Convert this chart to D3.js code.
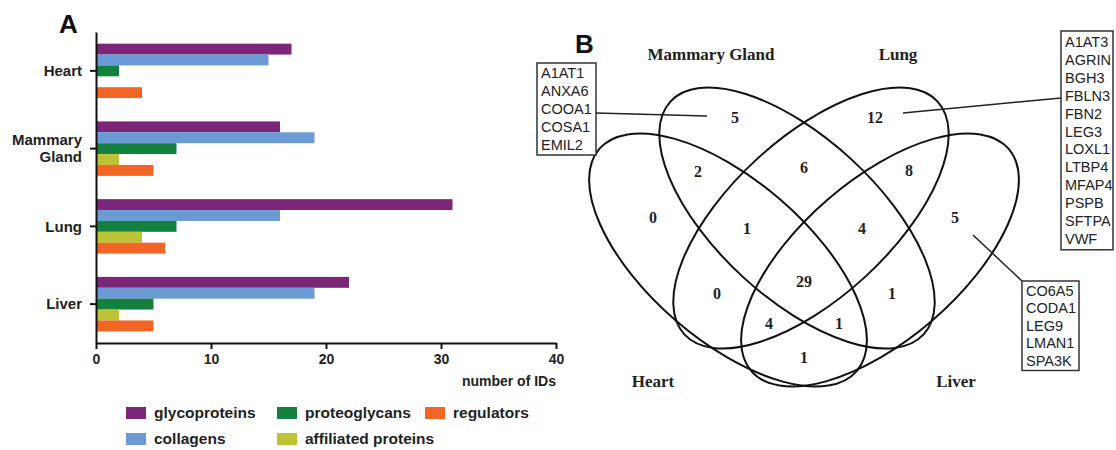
<!DOCTYPE html>
<html>
<head>
<meta charset="utf-8">
<script src="https://cdn.jsdelivr.net/npm/d3@7/dist/d3.min.js"></script>
<style>
  html, body { margin: 0; padding: 0; background: #fff; }
  svg { display: block; }
</style>
</head>
<body>
<svg id="chart" width="1116" height="450"></svg>
<script>
// ---------- DATA ----------
const categories = ["Heart", "Mammary Gland", "Lung", "Liver"];
const seriesNames = ["glycoproteins", "collagens", "proteoglycans", "affiliated proteins", "regulators"];
const glycoproteins = [17, 16, 31, 22];
const collagens = [15, 19, 16, 19];
const proteoglycans = [2, 7, 7, 5];
const affiliatedProteins = [0, 2, 4, 2];
const regulators = [4, 5, 6, 5];
const xTicks = [0, 10, 20, 30, 40];
const xTitle = "number of IDs";

const vennSets = ["Heart", "Mammary Gland", "Lung", "Liver"];
// region keys: H=Heart, M=Mammary Gland, L=Lung, V=Liver
const vennRegions = ["H", "M", "L", "V", "HM", "ML", "LV", "HML", "MLV", "HMLV", "HV", "HL", "MV", "HMV", "HLV"];
const vennCounts  = [0, 5, 12, 5, 2, 6, 8, 1, 4, 29, 1, 0, 1, 4, 1];

const mammaryOnlyIDs = ["A1AT1", "ANXA6", "COOA1", "COSA1", "EMIL2"];
const lungOnlyIDs = ["A1AT3", "AGRIN", "BGH3", "FBLN3", "FBN2", "LEG3", "LOXL1", "LTBP4", "MFAP4", "PSPB", "SFTPA", "VWF"];
const liverOnlyIDs = ["CO6A5", "CODA1", "LEG9", "LMAN1", "SPA3K"];

// ---------- STYLE / LAYOUT ----------
const colors = ["#7b2679", "#6a9bd4", "#13803f", "#bec235", "#f26524"];
const sans = "'Liberation Sans', Arial, sans-serif";
const serif = "'Liberation Serif', 'Times New Roman', serif";

const svg = d3.select("#chart");

// ===== Panel A =====
const series = [glycoproteins, collagens, proteoglycans, affiliatedProteins, regulators];
const x = d3.scaleLinear().domain([0, 40]).range([96, 556]);
const y = d3.scaleBand().domain(categories).range([32, 343]).paddingInner(0.3).paddingOuter(0.15);
const ySub = d3.scaleBand().domain(seriesNames).range([0, y.bandwidth()]);

const gA = svg.append("g");

categories.forEach((c, ci) => {
  seriesNames.forEach((s, si) => {
    const v = series[si][ci];
    if (v > 0) {
      gA.append("rect")
        .attr("x", x(0))
        .attr("y", y(c) + ySub(s))
        .attr("width", x(v) - x(0))
        .attr("height", ySub.bandwidth())
        .attr("fill", colors[si]);
    }
  });
});

// axes
const xAxis = d3.axisBottom(x).tickValues(xTicks).tickSize(6).tickSizeOuter(0);
const gx = gA.append("g").attr("transform", "translate(0,343)").call(xAxis);
gx.select(".domain").attr("stroke", "#111").attr("stroke-width", 2);
gx.selectAll(".tick line").attr("stroke", "#111").attr("stroke-width", 2);
gx.selectAll(".tick text").attr("font-family", sans).attr("font-weight", "bold")
  .attr("font-size", 14).attr("fill", "#222").attr("dy", "0.85em");

const yAxis = d3.axisLeft(y).tickSize(6).tickSizeOuter(0).tickFormat("");
const gy = gA.append("g").attr("transform", "translate(96,0)").call(yAxis);
gy.select(".domain").attr("stroke", "#111").attr("stroke-width", 2);
gy.selectAll(".tick line").attr("stroke", "#111").attr("stroke-width", 2);

categories.forEach(c => {
  const words = c.split(" ");
  const cy = y(c) + y.bandwidth() / 2;
  const t = gA.append("text")
    .attr("x", 82).attr("text-anchor", "end")
    .attr("font-family", sans).attr("font-weight", "bold").attr("font-size", 15).attr("fill", "#222");
  words.forEach((w, i) => {
    t.append("tspan").attr("x", 82)
      .attr("y", cy + (i - (words.length - 1) / 2) * 17)
      .attr("dy", "0.35em").text(w);
  });
});

gA.append("text").attr("x", 556).attr("y", 386).attr("text-anchor", "end")
  .attr("font-family", sans).attr("font-weight", "bold").attr("font-size", 14).attr("fill", "#222")
  .text(xTitle);

gA.append("text").attr("x", 59).attr("y", 33)
  .attr("font-family", sans).attr("font-weight", "bold").attr("font-size", 26).attr("fill", "#111")
  .text("A");

// legend
const legendPos = [[126, 413], [126, 439], [277, 413], [277, 439], [425, 413]];
seriesNames.forEach((s, i) => {
  const [lx, ly] = legendPos[i];
  gA.append("rect").attr("x", lx).attr("y", ly - 6).attr("width", 20).attr("height", 12).attr("fill", colors[i]);
  gA.append("text").attr("x", lx + 28).attr("y", ly).attr("dy", "0.35em")
    .attr("font-family", sans).attr("font-weight", "bold").attr("font-size", 15.5).attr("fill", "#222")
    .text(s);
});

// ===== Panel B =====
const gB = svg.append("g");
gB.append("text").attr("x", 575).attr("y", 53)
  .attr("font-family", sans).attr("font-weight", "bold").attr("font-size", 26).attr("fill", "#111")
  .text("B");

const ellipses = [
  { cx: 728, cy: 260, rx: 170, ry: 80, rot: 40.8 },   // Heart
  { cx: 797, cy: 218, rx: 172, ry: 80, rot: 42.6 },   // Mammary Gland
  { cx: 811, cy: 218, rx: 172, ry: 80, rot: -42.6 },  // Lung
  { cx: 880, cy: 260, rx: 170, ry: 80, rot: -40.8 }   // Liver
];
gB.selectAll("ellipse.set").data(ellipses).join("ellipse")
  .attr("class", "set")
  .attr("cx", 0).attr("cy", 0)
  .attr("rx", d => d.rx).attr("ry", d => d.ry)
  .attr("transform", d => `translate(${d.cx},${d.cy}) rotate(${d.rot})`)
  .attr("fill", "none").attr("stroke", "#111").attr("stroke-width", 2);

const setLabelPos = [[653, 381], [711, 54], [898, 54], [956, 381]];
vennSets.forEach((s, i) => {
  gB.append("text").attr("x", setLabelPos[i][0]).attr("y", setLabelPos[i][1]).attr("dy", "0.35em")
    .attr("text-anchor", "middle").attr("font-family", serif).attr("font-weight", "bold")
    .attr("font-size", 17).attr("fill", "#222").text(s);
});

const regionPos = {
  H: [653, 217], M: [735, 117], L: [875, 117], V: [955, 217],
  HM: [698, 171], ML: [804, 167], LV: [909, 170],
  HML: [747, 228], MLV: [862, 228], HMLV: [804, 281],
  HV: [804, 357], HL: [717, 293], MV: [892, 293], HMV: [769, 323], HLV: [839, 323]
};
vennRegions.forEach((r, i) => {
  const p = regionPos[r];
  gB.append("text").attr("x", p[0]).attr("y", p[1]).attr("dy", "0.35em")
    .attr("text-anchor", "middle").attr("font-family", serif).attr("font-weight", "bold")
    .attr("font-size", 16).attr("fill", "#222").text(vennCounts[i]);
});

// callout boxes
function idBox(list, bx, by, bw, lineH, pad) {
  const bh = list.length * lineH + pad * 2;
  gB.append("rect").attr("x", bx).attr("y", by).attr("width", bw).attr("height", bh)
    .attr("fill", "#fff").attr("stroke", "#333").attr("stroke-width", 1.5);
  list.forEach((t, i) => {
    gB.append("text").attr("x", bx + 4).attr("y", by + pad + lineH * (i + 0.5)).attr("dy", "0.35em")
      .attr("font-family", sans).attr("font-size", 14.5).attr("fill", "#222").text(t);
  });
}
function connector(x1, y1, x2, y2) {
  gB.append("line").attr("x1", x1).attr("y1", y1).attr("x2", x2).attr("y2", y2)
    .attr("stroke", "#222").attr("stroke-width", 1.5);
}
connector(596, 113, 707, 116);
connector(1061, 98, 903, 113);
connector(973, 235, 1022, 281);
idBox(mammaryOnlyIDs, 537, 63, 59, 18, 1);
idBox(lungOnlyIDs, 1061, 31, 52, 17.9, 2);
idBox(liverOnlyIDs, 1022, 281, 57, 17.5, 1);
</script>
</body>
</html>
